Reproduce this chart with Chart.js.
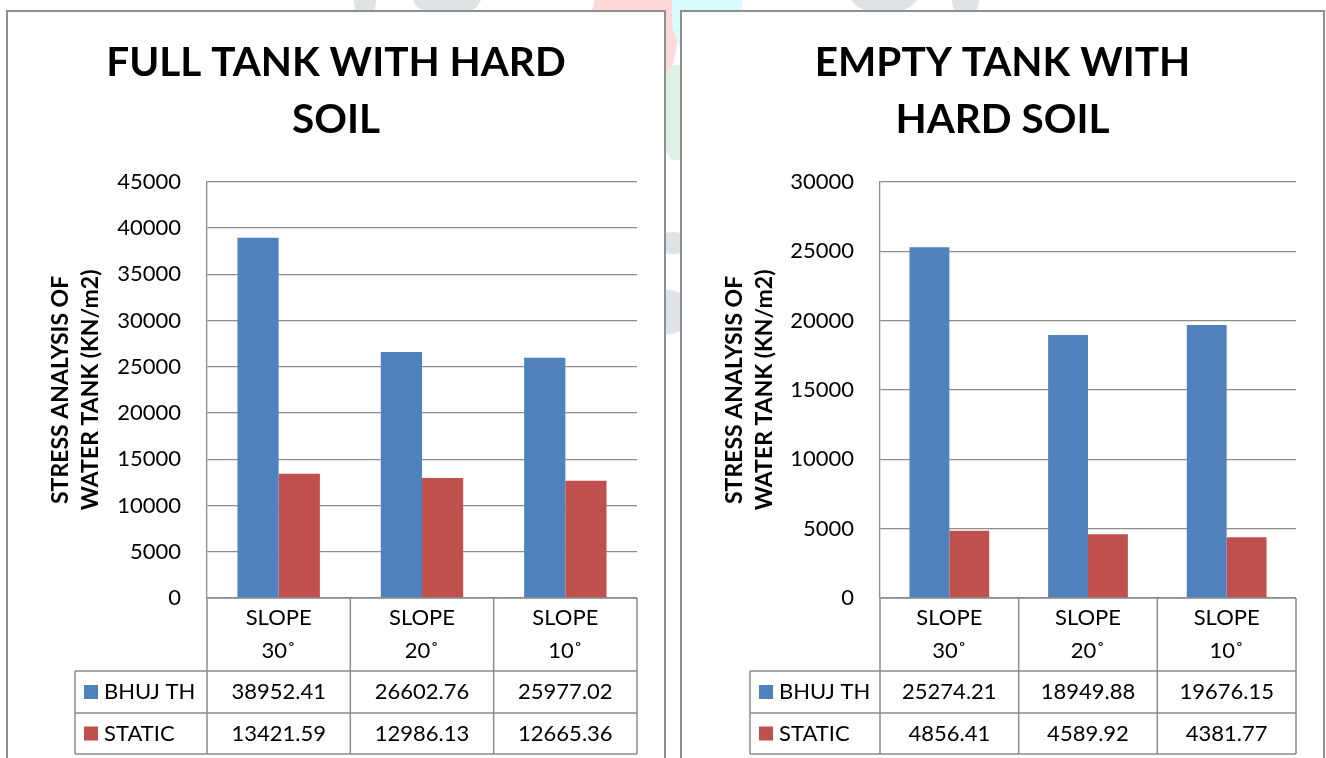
<!DOCTYPE html>
<html>
<head>
<meta charset="utf-8">
<script src="https://cdn.jsdelivr.net/npm/chart.js@4"></script>
<style>
  html, body { margin: 0; padding: 0; background: #fff; }
  body { width: 1326px; height: 758px; overflow: hidden; position: relative; font-family: Lato, sans-serif; }
  .bg { position: absolute; }
  .panel { position: absolute; top: 10px; height: 770px; border: 2px solid #8f8f8f; background: #fff; box-sizing: border-box; }
  #p1 { left: 6px; width: 660px; }
  #p2 { left: 680px; width: 645px; }
  canvas { position: absolute; top: 12px; }
  #c1 { left: 8px; }
  #c2 { left: 682px; }
</style>
</head>
<body>
<!-- faint page artwork behind the two panels -->
<div class="bg" style="left:354px;top:-20px;width:22px;height:40px;border-radius:50%;background:#dde3e6"></div>
<div class="bg" style="left:412px;top:-30px;width:70px;height:48px;border-radius:0 0 50% 50%;background:#dde3e6"></div>
<div class="bg" style="left:587px;top:-10px;width:92px;height:90px;background:#ffd8d8;transform:skewX(-12deg)"></div>
<div class="bg" style="left:672px;top:-10px;width:70px;height:75px;border-radius:0 0 40% 60%;background:#d8fbfb"></div>
<div class="bg" style="left:662px;top:65px;width:30px;height:95px;border-radius:40%;background:#dcf2e6"></div>
<div class="bg" style="left:655px;top:232px;width:35px;height:22px;border-radius:50%;background:#dde3e6"></div>
<div class="bg" style="left:650px;top:290px;width:40px;height:44px;border-radius:50%;background:#dde3e6"></div>
<div class="bg" style="left:849px;top:-30px;width:70px;height:44px;border-radius:0 0 50% 50%;background:#dde3e6"></div>
<div class="bg" style="left:952px;top:-20px;width:27px;height:38px;border-radius:50%;background:#dde3e6"></div>

<div class="panel" id="p1"></div>
<div class="panel" id="p2"></div>
<canvas id="c1" width="656" height="746"></canvas>
<canvas id="c2" width="641" height="746"></canvas>

<script>
// Categories (slope of the ground) and series names
const categories = [["SLOPE", "30˚"], ["SLOPE", "20˚"], ["SLOPE", "10˚"]];
const seriesNames = ["BHUJ TH", "STATIC"];

// Full tank with hard soil, stress in kN/m2
const fullBhuj = [38952.41, 26602.76, 25977.02];
const fullStatic = [13421.59, 12986.13, 12665.36];

// Empty tank with hard soil, stress in kN/m2
const emptyBhuj = [25274.21, 18949.88, 19676.15];
const emptyStatic = [4856.41, 4589.92, 4381.77];

// Value axis ticks
const fullTicks = [0, 5000, 10000, 15000, 20000, 25000, 30000, 35000, 40000, 45000];
const emptyTicks = [0, 5000, 10000, 15000, 20000, 25000, 30000];

// Chart titles
const fullTitle = ["FULL TANK WITH HARD", "SOIL"];
const emptyTitle = ["EMPTY TANK WITH", "HARD SOIL"];
const yTitle = ["STRESS ANALYSIS OF", "WATER TANK (KN/m2)"];

const BLUE = '#4F81BD';
const RED = '#C0504D';
const GRID = '#8c8c8c';
const FONT = 'Lato';
const SIDE = 27; // equal side padding keeps the title centred in the panel

// Data table drawn under the plot, columns aligned with the category scale
const dataTable = {
  id: 'dataTable',
  afterDraw(chart, args, opts) {
    const { ctx, chartArea: a } = chart;
    const xs = chart.scales.x;
    const n = chart.data.labels.length;
    const colW = (a.right - a.left) / n;
    const y0 = a.bottom, y1 = y0 + 73, y2 = y1 + 42, y3 = y2 + 41;
    const L = opts.legendLeft;

    ctx.save();
    ctx.strokeStyle = GRID;
    ctx.lineWidth = 1.5;
    ctx.beginPath();
    ctx.moveTo(a.left, y0); ctx.lineTo(a.right, y0);
    [y1, y2, y3].forEach(y => { ctx.moveTo(L, y); ctx.lineTo(a.right, y); });
    for (let i = 0; i <= n; i++) {
      const x = a.left + i * colW;
      ctx.moveTo(x, y0); ctx.lineTo(x, y3);
    }
    ctx.moveTo(L, y1); ctx.lineTo(L, y3);
    ctx.stroke();

    ctx.fillStyle = '#000';
    ctx.font = '22px ' + FONT;
    ctx.textAlign = 'center';
    ctx.textBaseline = 'middle';
    chart.data.labels.forEach((lab, i) => {
      const cx = xs.getPixelForValue(i);
      ctx.fillText(lab[0], cx, y0 + 20);
      ctx.fillText(lab[1], cx, y0 + 53);
    });

    const rows = [[y1, y2], [y2, y3]];
    chart.data.datasets.forEach((ds, r) => {
      const cy = (rows[r][0] + rows[r][1]) / 2;
      ctx.textAlign = 'center';
      ds.data.forEach((v, i) => {
        ctx.fillText(v.toFixed(2), xs.getPixelForValue(i), cy);
      });
      ctx.fillStyle = ds.backgroundColor;
      ctx.fillRect(L + 9, cy - 7, 14, 14);
      ctx.fillStyle = '#000';
      ctx.textAlign = 'left';
      ctx.fillText(ds.label, L + 29, cy);
    });
    ctx.restore();
  }
};

function makeChart(id, title, bhuj, stat, ticks, plotLeft, legendLeft) {
  return new Chart(document.getElementById(id), {
    type: 'bar',
    data: {
      labels: categories,
      datasets: [
        { label: seriesNames[0], data: bhuj, backgroundColor: BLUE },
        { label: seriesNames[1], data: stat, backgroundColor: RED }
      ]
    },
    options: {
      responsive: false,
      animation: false,
      devicePixelRatio: 1,
      layout: { padding: { left: SIDE, right: SIDE, top: 0, bottom: 160 } },
      datasets: { bar: { categoryPercentage: 0.575, barPercentage: 1 } },
      plugins: {
        legend: { display: false },
        tooltip: { enabled: false },
        title: {
          display: true,
          text: title,
          color: '#000',
          font: { family: FONT, size: 40.5, weight: 'bold', lineHeight: 1.4 },
          padding: { top: 22.4, bottom: 34 }
        },
        dataTable: { legendLeft }
      },
      scales: {
        x: { display: false },
        y: {
          min: ticks[0],
          max: ticks[ticks.length - 1],
          afterBuildTicks(s) { s.ticks = ticks.map(v => ({ value: v })); },
          afterFit(s) { s.width = plotLeft - SIDE; },
          ticks: {
            padding: 26,
            color: '#000',
            font: { family: FONT, size: 22 },
            callback: v => String(v)
          },
          grid: { color: GRID, lineWidth: 1.3, drawTicks: false },
          border: { display: true, color: GRID, width: 1.3 },
          title: {
            display: true,
            text: yTitle,
            color: '#000',
            font: { family: FONT, size: 23, weight: 'bold', lineHeight: 1.3 },
            padding: { top: 11, bottom: 0 }
          }
        }
      }
    },
    plugins: [dataTable]
  });
}

makeChart('c1', fullTitle, fullBhuj, fullStatic, fullTicks, 199, 67);
makeChart('c2', emptyTitle, emptyBhuj, emptyStatic, emptyTicks, 198, 68);
</script>
</body>
</html>
